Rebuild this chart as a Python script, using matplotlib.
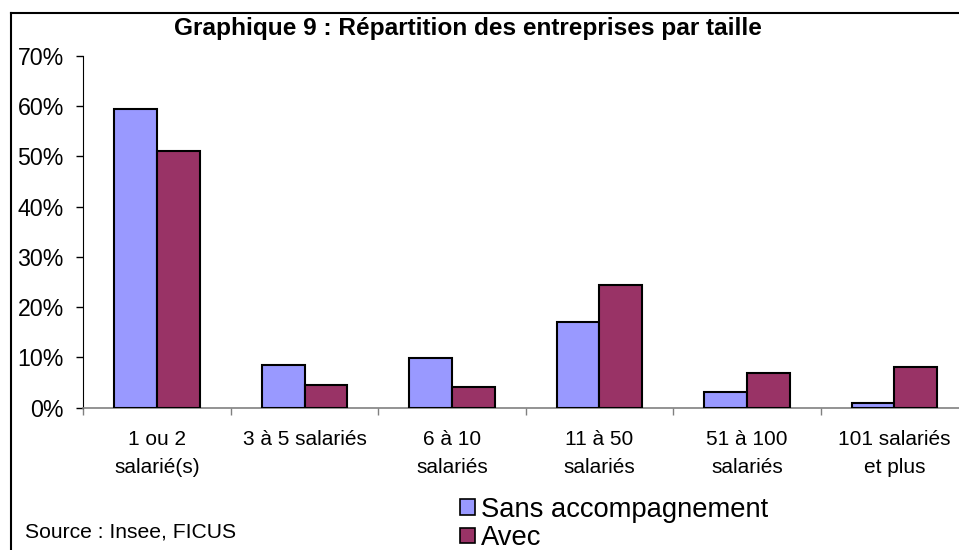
import matplotlib
matplotlib.use('Agg')
import matplotlib.pyplot as plt
from matplotlib.lines import Line2D
from matplotlib.patches import Patch
import numpy as np

plt.rcParams['font.family'] = ['Liberation Sans', 'DejaVu Sans']

categories = ['1 ou 2\nsalarié(s)', '3 à 5 salariés', '6 à 10\nsalariés',
              '11 à 50\nsalariés', '51 à 100\nsalariés', '101 salariés\net plus']
sans = [0.594, 0.085, 0.098, 0.170, 0.031, 0.010]
avec = [0.510, 0.046, 0.042, 0.244, 0.070, 0.081]
series_names = ['Sans accompagnement', 'Avec']
colors = ['#9999FF', '#993366']

fig = plt.figure(figsize=(9.59, 5.5), dpi=100)
ax = fig.add_axes([0.0869, 0.2587, 0.9225, 0.6395])

x = np.arange(len(categories))
w = 0.29
ax.bar(x - w / 2, sans, w, color=colors[0], edgecolor='black', linewidth=1.5, zorder=3)
ax.bar(x + w / 2, avec, w, color=colors[1], edgecolor='black', linewidth=1.5, zorder=3)

ax.set_xlim(-0.5, len(categories) - 0.5)
ax.set_ylim(0, 0.7)
ax.set_yticks(np.arange(0, 0.71, 0.1))
ax.set_yticklabels([f'{int(round(v * 100))}%' for v in np.arange(0, 0.71, 0.1)], fontsize=16.7)
ax.tick_params(axis='y', length=5, width=1, direction='out', pad=9, colors='black')

ax.set_xticks(x)
ax.set_xticklabels(categories, fontsize=15, linespacing=1.6)
ax.set_xticks(np.arange(-0.5, len(categories), 1.0), minor=True)
ax.tick_params(axis='x', which='major', length=0, pad=16)
ax.tick_params(axis='x', which='minor', length=5, width=1, color='#808080', direction='out')

for s in ['top', 'right']:
    ax.spines[s].set_visible(False)
ax.spines['left'].set_color('black')
ax.spines['bottom'].set_color('#808080')
ax.spines['bottom'].set_linewidth(1.2)

# cadre du graphique
fig.add_artist(Line2D([11 / 959, 11 / 959], [-0.05, 1 - 13 / 550], color='black', lw=1.5))
fig.add_artist(Line2D([11 / 959, 1.05], [1 - 13 / 550, 1 - 13 / 550], color='black', lw=1.5))

fig.text(468 / 959, 1 - 29 / 550, 'Graphique 9 : Répartition des entreprises par taille',
         ha='center', va='center', fontsize=17.6, fontweight='bold')
fig.text(25 / 959, 1 - 538 / 550, 'Source : Insee, FICUS', ha='left', va='baseline', fontsize=15.2)

handles = [Patch(facecolor=c, edgecolor='black', linewidth=1.2) for c in colors]
fig.legend(handles, series_names, loc='upper left', bbox_to_anchor=(460 / 959, 1 - 497 / 550),
           frameon=False, fontsize=19.7, handlelength=0.55, handleheight=0.5,
           handletextpad=0.2, labelspacing=0.08, borderpad=0, borderaxespad=0)

fig.savefig('out.png', dpi=100)
